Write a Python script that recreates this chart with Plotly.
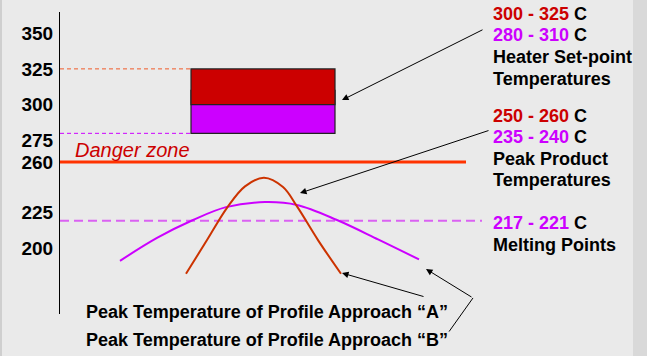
import plotly.graph_objects as go

# ---- data -------------------------------------------------------------
# reflow profiles: time (s) vs. product temperature (deg C)
profile_a_time = [126, 147, 167, 185, 204, 223, 237, 258, 281]
profile_a_temp = [182, 205.5, 228, 243, 249, 242.5, 229, 205.5, 182]
profile_b_time = [60, 97, 133, 166, 205, 237, 277, 318, 359]
profile_b_temp = [191, 207, 219.5, 228.5, 232, 230, 219.5, 206, 192]

# heater set-point window
heater_time = [131, 275]
heater_red = [300, 325]
heater_purple = [280, 310]

danger_temp = 260
melting_temp = 219
danger_end = 406
melting_end = 422

tick_vals = [350, 325, 300, 275, 260, 225, 200]

RED = "#CC0000"
PURPLE = "#CC00FF"
ORANGE = "#CC3300"
FONT = "Liberation Sans, Arial, sans-serif"

X_RANGE = [0, 573]
Y_RANGE = [153.9, 364.7]

# plot area in pixels (for placing free text below the axes)
PLOT_TOP, PLOT_BOTTOM = 12, 314


def paper_y(px):
    return (PLOT_BOTTOM - px) / (PLOT_BOTTOM - PLOT_TOP)


fig = go.Figure()

# heater set-point bars (purple first, red on top)
bar_center = (heater_time[0] + heater_time[1]) / 2
bar_width = heater_time[1] - heater_time[0]
fig.add_trace(go.Bar(x=[bar_center], y=[heater_purple[1] - heater_purple[0]],
                     base=[heater_purple[0]], width=[bar_width],
                     marker=dict(color=PURPLE, line=dict(color="#222222", width=1.2)),
                     hoverinfo="skip"))
fig.add_trace(go.Bar(x=[bar_center], y=[heater_red[1] - heater_red[0]],
                     base=[heater_red[0]], width=[bar_width],
                     marker=dict(color=RED, line=dict(color="#222222", width=1.2)),
                     hoverinfo="skip"))

# dashed guides from the axis to the set-point window
fig.add_trace(go.Scatter(x=[0, heater_time[0]], y=[heater_red[1]] * 2, mode="lines",
                         line=dict(color="#F05A28", width=1, dash="4px,3px"), hoverinfo="skip"))
fig.add_trace(go.Scatter(x=[0, heater_time[0]], y=[heater_purple[0]] * 2, mode="lines",
                         line=dict(color=PURPLE, width=1, dash="4px,3px"), hoverinfo="skip"))

# danger line and melting point line
fig.add_trace(go.Scatter(x=[0, danger_end], y=[danger_temp] * 2, mode="lines",
                         line=dict(color="#FF3300", width=3), hoverinfo="skip"))
fig.add_trace(go.Scatter(x=[0, melting_end], y=[melting_temp] * 2, mode="lines",
                         line=dict(color="#DA62F2", width=1.8, dash="9px,5px"), hoverinfo="skip"))

# reflow profiles
fig.add_trace(go.Scatter(x=profile_b_time, y=profile_b_temp, mode="lines",
                         line=dict(color=PURPLE, width=2, shape="spline", smoothing=1.0),
                         hoverinfo="skip"))
fig.add_trace(go.Scatter(x=profile_a_time, y=profile_a_temp, mode="lines",
                         line=dict(color=ORANGE, width=2, shape="spline", smoothing=1.0),
                         hoverinfo="skip"))

annotations = []


def arrow(x, y, ax, ay, head=2):
    annotations.append(dict(x=x, y=y, ax=ax, ay=ay, xref="x", yref="y",
                            axref="x", ayref="y", text="", showarrow=True,
                            arrowhead=head, arrowsize=1.3, arrowwidth=1,
                            arrowcolor="black", standoff=0, startstandoff=0))


# callout arrows
arrow(282, 303.2, 424, 352.8)          # heater window
arrow(240, 238.3, 430, 282.3)          # peak product temps
arrow(profile_a_time[-1] + 1, 182.5, 365, 165.8)   # approach A
arrow(366, 185.3, 413, 165.1)          # approach B
arrow(413, 165.1, 388, 140.6, head=0)  # approach B leader


def label(x, y, text, size=18, color="black", italic=False, bold=True,
          yref="y"):
    annotations.append(dict(x=x, y=y, xref="x", yref=yref, text=text, showarrow=False,
                            xanchor="left", yanchor="middle",
                            font=dict(family=FONT, size=size, color=color,
                                      style="italic" if italic else "normal",
                                      weight="bold" if bold else "normal")))


def rng(lo, hi, color):
    return f"<span style='color:{color}'>{lo} - {hi}</span> C"


RX = 431
label(RX, 363.3, rng(300, 325, RED))
label(RX, 348.6, rng(280, 310, PURPLE))
label(RX, 333.3, "Heater Set-point")
label(RX, 317.9, "Temperatures")
label(RX, 292.1, rng(250, 260, RED))
label(RX, 277.4, rng(235, 240, PURPLE))
label(RX, 262.1, "Peak Product")
label(RX, 247.4, "Temperatures")
label(RX, 217.4, rng(217, 221, PURPLE))
label(RX, 202.1, "Melting Points")

label(13, 268.6, "Danger zone", size=20, color=RED, italic=True, bold=False)

label(24, paper_y(312), "Peak Temperature of Profile Approach \u201cA\u201d", yref="paper")
label(24, paper_y(340), "Peak Temperature of Profile Approach \u201cB\u201d", yref="paper")

shapes = [
    # stone strip along the right edge
    dict(type="rect", xref="paper", yref="paper", x0=1.0, x1=1.03, y0=-0.2, y1=1.1,
         fillcolor="#D9D9D9", line=dict(width=0), layer="below"),
    # thin darker border at the left edge
    dict(type="rect", xref="paper", yref="paper", x0=-0.1047, x1=-0.1012, y0=-0.2, y1=1.1,
         fillcolor="#CFCFCF", line=dict(width=0), layer="below"),
]

fig.update_layout(
    width=647, height=356,
    margin=dict(l=60, r=14, t=12, b=42),
    paper_bgcolor="#EAEAEA", plot_bgcolor="#EAEAEA",
    showlegend=False, barmode="overlay",
    annotations=annotations, shapes=shapes,
    xaxis=dict(range=X_RANGE, visible=False, fixedrange=True),
    yaxis=dict(range=Y_RANGE, tickvals=tick_vals, ticktext=[str(v) for v in tick_vals],
               showgrid=False, zeroline=False, showline=True, linecolor="black",
               linewidth=1, ticks="outside", ticklen=2, tickcolor="rgba(0,0,0,0)",
               tickfont=dict(family=FONT, size=19, color="black", weight="bold")),
)

fig.write_html("out.html")
